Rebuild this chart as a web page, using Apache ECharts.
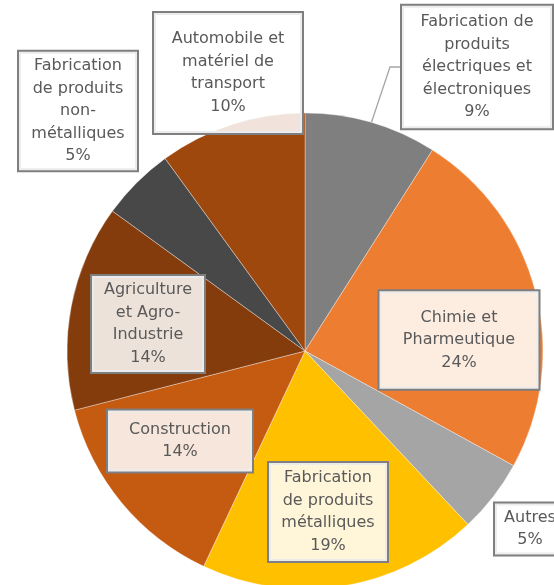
<!DOCTYPE html>
<html>
<head>
<meta charset="utf-8">
<script src="https://cdn.jsdelivr.net/npm/echarts@6/dist/echarts.min.js"></script>
<style>html,body{margin:0;padding:0;background:#fff;}#c{width:554px;height:585px;}</style>
</head>
<body>
<div id="c"></div>
<script>
const categories = [
  "Fabrication de produits électriques et électroniques",
  "Chimie et Pharmeutique",
  "Autres",
  "Fabrication de produits métalliques",
  "Construction",
  "Agriculture et Agro-Industrie",
  "Fabrication de produits non-métalliques",
  "Automobile et matériel de transport"
];
const labelTexts = [
  "Fabrication de\nproduits\nélectriques et\nélectroniques",
  "Chimie et\nPharmeutique",
  "Autres",
  "Fabrication\nde produits\nmétalliques",
  "Construction",
  "Agriculture\net Agro-\nIndustrie",
  "Fabrication\nde produits\nnon-\nmétalliques",
  "Automobile et\nmatériel de\ntransport"
];
const values = [9, 24, 5, 19, 14, 14, 5, 10];
const colors = ["#7f7f7f", "#ed7d31", "#a5a5a5", "#ffc000", "#c55a11", "#843c0c", "#484848", "#9e480e"];

// label box layout (center x, center y, width, vertical padding)
const boxCenters = [[477, 67], [459, 340], [530, 529], [328, 512], [180, 441], [148, 324], [78, 111], [228, 73]];
const boxWidths = [150, 159, 70, 118, 144, 112, 118, 148];
const boxPadV = [5, 15, 3, 4, 8, 3, 3, 15];

const chart = echarts.init(document.getElementById('c'), null, {renderer: 'canvas'});
const data = categories.map((name, i) => ({
  name: name,
  value: values[i],
  itemStyle: {color: colors[i]},
  label: {width: boxWidths[i], padding: [boxPadV[i], 0, boxPadV[i], 0]},
  labelLine: {show: i === 0}
}));

chart.setOption({
  animation: false,
  series: [{
    type: 'pie',
    center: [305, 351],
    radius: 238,
    startAngle: 90,
    clockwise: true,
    avoidLabelOverlap: false,
    data: data,
    itemStyle: {borderColor: 'rgba(255,255,255,0.6)', borderWidth: 0.6},
    label: {
      show: true,
      position: 'outside',
      formatter: p => labelTexts[p.dataIndex] + '\n' + p.value + '%',
      fontFamily: 'DejaVu Sans',
      fontSize: 16,
      lineHeight: 22.5,
      color: '#595959',
      align: 'center',
      backgroundColor: 'rgba(255,255,255,0.85)',
      borderColor: '#7f7f7f',
      borderWidth: 2
    },
    labelLine: {
      length: 10,
      length2: 10,
      lineStyle: {color: '#a5a5a5', width: 1.3}
    },
    labelLayout: function (p) {
      const c = boxCenters[p.dataIndex];
      return {x: c[0], y: c[1], align: 'center', verticalAlign: 'middle'};
    }
  }]
});
</script>
</body>
</html>
